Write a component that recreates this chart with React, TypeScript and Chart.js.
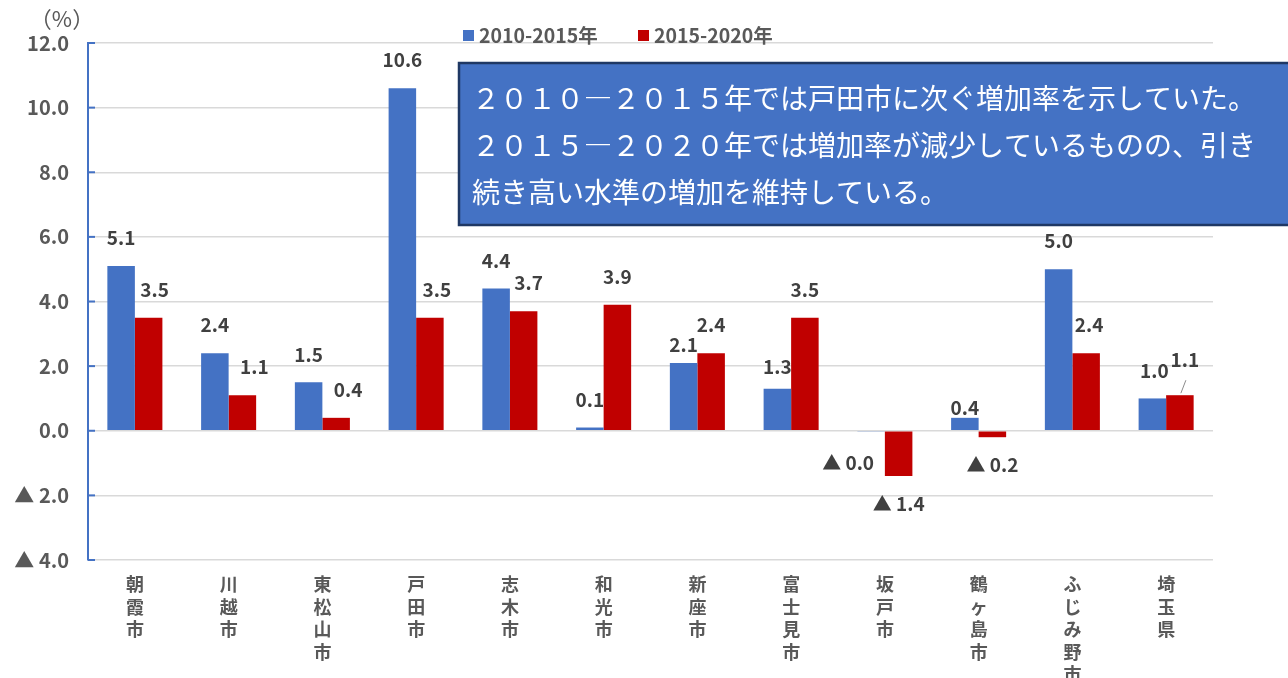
import { useEffect, useRef } from 'react';
import { Chart, registerables } from 'chart.js';
Chart.register(...registerables);

const categoryNames = ['朝霞市', '川越市', '東松山市', '戸田市', '志木市', '和光市', '新座市', '富士見市', '坂戸市', '鶴ヶ島市', 'ふじみ野市', '埼玉県'];
const seriesNames = ['2010-2015年', '2015-2020年'];
const rate2010_2015 = [5.1, 2.4, 1.5, 10.6, 4.4, 0.1, 2.1, 1.3, -0.03, 0.4, 5.0, 1.0];
const rate2015_2020 = [3.5, 1.1, 0.4, 3.5, 3.7, 3.9, 2.4, 3.5, -1.4, -0.2, 2.4, 1.1];
const yTicks = { min: -4, max: 12, step: 2 };
const unitLabel = '（%）';
const noteLines = [
  '２０１０―２０１５年では戸田市に次ぐ増加率を示していた。',
  '２０１５―２０２０年では増加率が減少しているものの、引き',
  '続き高い水準の増加を維持している。',
];

const FONT = '"Noto Sans CJK JP", "Noto Sans", sans-serif';
const BLUE = '#4472C4';
const RED = '#C00000';
const GRAY = '#595959';

const fmt = (v: number) => (v < 0 ? '▲ ' + Math.abs(v).toFixed(1) : v.toFixed(1));

// label nudges (dx, dy) keyed by "dataset-index"
const labelNudges: Record<string, [number, number]> = {
  '0-6': [0, 10],
  '0-7': [0, 6],
  '0-8': [-23, 3],
  '0-9': [0, 18],
  '0-11': [2, 0],
  '1-0': [6, 0],
  '1-1': [12, 0],
  '1-2': [12, 0],
  '1-3': [7, 0],
  '1-4': [5, 0],
  '1-10': [3, 0],
  '1-11': [5, -7],
};

const overlayPlugin = {
  id: 'overlay',
  afterDatasetsDraw(chart: any) {
    const ctx = chart.ctx as CanvasRenderingContext2D;
    const yScale = chart.scales.y;
    const area = chart.chartArea;
    ctx.save();
    // small inner ticks on the y axis
    ctx.strokeStyle = BLUE;
    ctx.lineWidth = 2;
    yScale.ticks.forEach((t: any) => {
      const y = yScale.getPixelForValue(t.value);
      ctx.beginPath();
      ctx.moveTo(area.left, y);
      ctx.lineTo(area.left + 7, y);
      ctx.stroke();
    });
    // data labels
    ctx.font = `bold 19px ${FONT}`;
    ctx.fillStyle = '#404040';
    ctx.textAlign = 'center';
    ctx.textBaseline = 'middle';
    chart.data.datasets.forEach((ds: any, di: number) => {
      const meta = chart.getDatasetMeta(di);
      meta.data.forEach((el: any, i: number) => {
        const v = ds.data[i];
        const n = labelNudges[`${di}-${i}`] || [0, 0];
        const y = v >= 0 ? el.y - 28 : el.y + 28;
        ctx.fillText(fmt(v), el.x + n[0], y + n[1]);
        if (di === 1 && i === 11) {
          ctx.save();
          ctx.strokeStyle = '#8c8c8c';
          ctx.lineWidth = 1;
          ctx.beginPath();
          ctx.moveTo(el.x + 6, y + n[1] + 20);
          ctx.lineTo(el.x + 1, el.y - 2);
          ctx.stroke();
          ctx.restore();
        }
      });
    });
    // unit label
    ctx.font = `22px ${FONT}`;
    ctx.fillStyle = GRAY;
    ctx.fillText(unitLabel, 62, 19);
    // legend
    const colors = [BLUE, RED];
    const lx = [463, 638];
    ctx.textAlign = 'left';
    ctx.font = `bold 19.5px ${FONT}`;
    seriesNames.forEach((s, i) => {
      ctx.fillStyle = colors[i];
      ctx.fillRect(lx[i], 30, 11, 11);
      ctx.fillStyle = GRAY;
      ctx.fillText(s, lx[i] + 16, 36);
    });
    // annotation box
    ctx.fillStyle = BLUE;
    ctx.fillRect(459, 63, 840, 162);
    ctx.strokeStyle = '#1F3864';
    ctx.lineWidth = 2.5;
    ctx.strokeRect(459, 63, 840, 162);
    ctx.fillStyle = '#ffffff';
    ctx.font = `28px ${FONT}`;
    ctx.textBaseline = 'middle';
    const lineY = [98, 145, 192];
    noteLines.forEach((line, i) => {
      ctx.fillText(line, 472, lineY[i]);
    });
    ctx.restore();
  },
};

export default function App() {
  const ref = useRef<HTMLCanvasElement>(null);
  useEffect(() => {
    document.body.style.margin = '0';
    const chart = new Chart(ref.current!, {
      type: 'bar',
      data: {
        labels: categoryNames.map((n) => n.split('')),
        datasets: [
          { label: seriesNames[0], data: rate2010_2015, backgroundColor: BLUE, categoryPercentage: 0.587, barPercentage: 1 },
          { label: seriesNames[1], data: rate2015_2020, backgroundColor: RED, categoryPercentage: 0.587, barPercentage: 1 },
        ],
      },
      options: {
        responsive: false,
        maintainAspectRatio: false,
        animation: false,
        layout: { padding: { top: 43, right: 75, left: 0, bottom: 0 } },
        plugins: { legend: { display: false }, tooltip: { enabled: false } },
        scales: {
          x: {
            grid: { display: false, drawTicks: false },
            border: { display: false },
            ticks: {
              color: GRAY,
              font: { family: FONT, size: 18, weight: 'bold', lineHeight: 1.25 },
              padding: 13,
              maxRotation: 0,
              autoSkip: false,
            },
            afterFit: (s: any) => { s.height = 118; },
          },
          y: {
            min: yTicks.min,
            max: yTicks.max,
            ticks: {
              stepSize: yTicks.step,
              callback: (v: any) => fmt(Number(v)),
              color: GRAY,
              font: { family: FONT, size: 20, weight: 'bold' },
              padding: 19,
            },
            grid: { color: '#d9d9d9', lineWidth: 1.5, drawTicks: false },
            border: { color: BLUE, width: 2 },
            afterFit: (s: any) => { s.width = 88; },
          },
        },
      },
      plugins: [overlayPlugin],
    });
    return () => chart.destroy();
  }, []);
  return (
    <div style={{ width: 1288, height: 678 }}>
      <canvas ref={ref} width={1288} height={678} style={{ display: 'block' }} />
    </div>
  );
}
